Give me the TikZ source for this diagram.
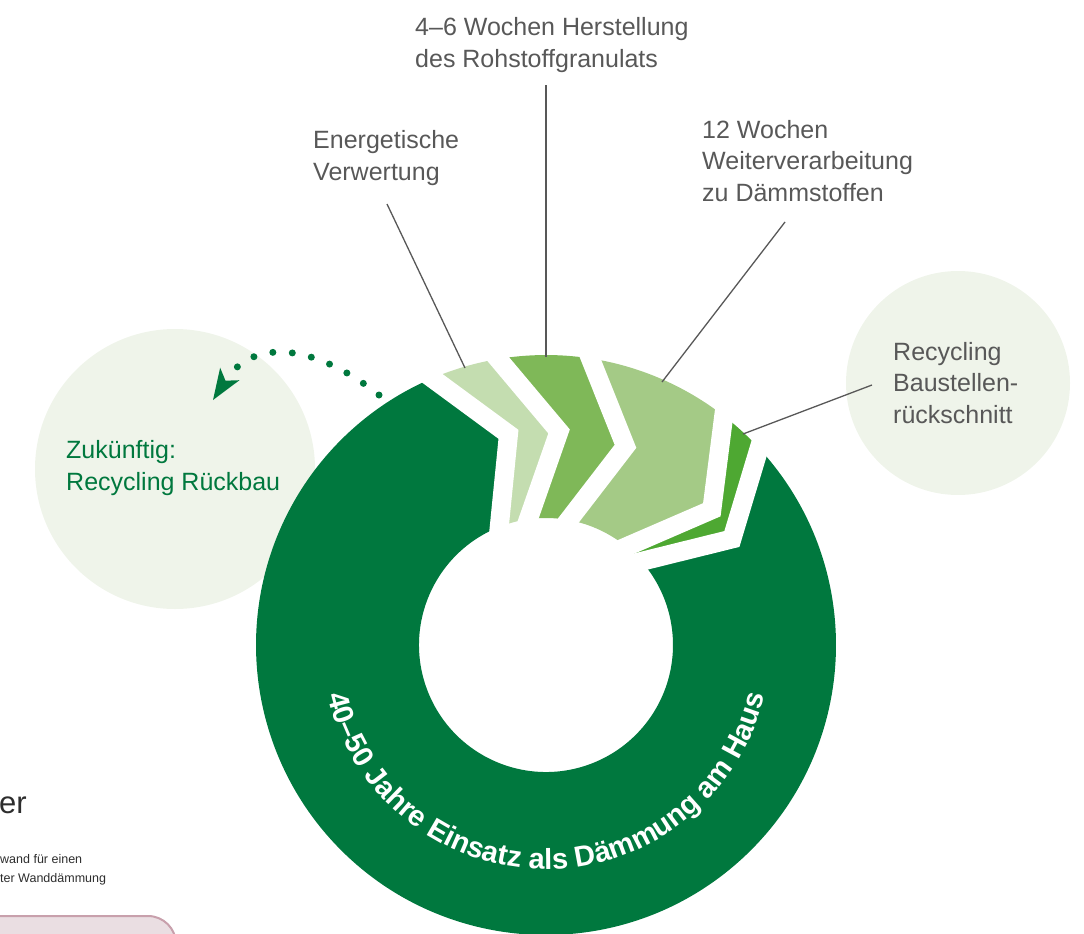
\documentclass[tikz,border=0pt]{standalone}
\usepackage{fontspec}
\setmainfont{Liberation Sans}
\usepackage{xcolor}
\usetikzlibrary{calc,arrows.meta,decorations.text}

\definecolor{ringgreen}{RGB}{0,120,62}
\definecolor{segpale}{RGB}{196,221,176}
\definecolor{segmid}{RGB}{127,184,88}
\definecolor{seglight}{RGB}{164,202,134}
\definecolor{segbright}{RGB}{78,168,50}
\definecolor{bubble}{RGB}{239,244,234}
\definecolor{txtgray}{RGB}{88,88,88}
\definecolor{pagetext}{RGB}{45,45,45}
\definecolor{barpink}{RGB}{234,222,226}
\definecolor{barrim}{RGB}{200,160,172}

\begin{document}
\begin{tikzpicture}[x=1pt, y=1pt,
    lbl/.style={font=\fontsize{25}{31.5}\selectfont, text=txtgray, align=left, inner sep=0pt, anchor=base west},
    leader/.style={draw=txtgray, line width=1.3pt},
    gap/.style={draw=white, line width=19pt, line join=miter, shorten <=-20pt, shorten >=-20pt},
    dots/.style={draw=ringgreen, line width=7pt, line cap=round, dash pattern=on 0pt off 19.5pt}]
  \useasboundingbox (0,0) rectangle (1084,-934);
  \clip (0,0) rectangle (1084,-934);

  % Background bubbles
  \fill[bubble] (175,-469) circle (140);
  \fill[bubble] (958,-383) circle (112);

  % Ring centre and chevron boundaries (outer, tip, inner)
  \coordinate (C) at (546,-645);
  \foreach \a [count=\i from 0] in {113.1,99.5,81.2,52.2,42.7} {
    \coordinate (o\i) at ($(C)+(\a:290)$);
    \coordinate (t\i) at ($(C)+(\a-13:214)$);
    \coordinate (n\i) at ($(C)+(\a-1.5:127)$);
  }

  % Main ring: 40-50 years on the house
  \fill[ringgreen] (o4) arc[start angle=42.7, end angle=-246.9, radius=290] -- (t0)
    -- (n0) arc[start angle=-248.4, end angle=41.2, radius=127] -- (t4) -- cycle;

  % Chevron segments
  \fill[segpale] (o0) arc[start angle=113.1, end angle=99.5, radius=290] -- (t1)
    -- (n1) arc[start angle=98, end angle=111.6, radius=127] -- (t0) -- cycle;
  \fill[segmid] (o1) arc[start angle=99.5, end angle=81.2, radius=290] -- (t2)
    -- (n2) arc[start angle=79.7, end angle=98, radius=127] -- (t1) -- cycle;
  \fill[seglight] (o2) arc[start angle=81.2, end angle=52.2, radius=290] -- (t3)
    -- (n3) arc[start angle=50.7, end angle=79.7, radius=127] -- (t2) -- cycle;
  \fill[segbright] (o3) arc[start angle=52.2, end angle=42.7, radius=290] -- (t4)
    -- (n4) arc[start angle=41.2, end angle=50.7, radius=127] -- (t3) -- cycle;

  % White gaps between segments
  \foreach \i in {0,...,4}
    \draw[gap] (o\i) -- (t\i) -- (n\i);

  % Curved text in the ring
  \path[decorate, decoration={text along path, text align=center, text color=white,
      text={|\fontsize{29}{29}\selectfont\bfseries|40–50 Jahre Einsatz als Dämmung am Haus}}]
    ($(C)+(180:224)$) arc[start angle=180, end angle=360, radius=224];

  % Labels (base = last line)
  \node[lbl] (herst) at (415,-67) {4–6 Wochen Herstellung\\des Rohstoffgranulats};
  \node[lbl] (energ) at (313,-180) {Energetische\\Verwertung};
  \node[lbl] (weiter) at (702,-201) {12 Wochen\\Weiterverarbeitung\\zu Dämmstoffen};
  \node[lbl] (bau) at (893,-423) {Recycling\\Baustellen-\\rückschnitt};
  \node[lbl, text=ringgreen] (future) at (66,-490) {Zukünftig:\\Recycling Rückbau};

  % Leader lines
  \coordinate (energA) at (387,-204);  \coordinate (energB) at (465,-368);
  \coordinate (herstA) at (546,-85);   \coordinate (herstB) at (546,-357);
  \coordinate (weiterA) at (785,-222); \coordinate (weiterB) at (662,-382);
  \coordinate (bauA) at (872,-385);    \coordinate (bauB) at (743,-434);
  \draw[leader] (energA) -- (energB);
  \draw[leader] (herstA) -- (herstB);
  \draw[leader] (weiterA) -- (weiterB);
  \draw[leader] (bauA) -- (bauB);

  % Dotted arrow to future recycling
  \coordinate (fromRing) at (379,-395);
  \coordinate (toBubble) at (213,-400);
  \draw[dots, -{Stealth[length=31pt, width=23pt, inset=8pt, line width=0pt]}]
    (fromRing) .. controls (319,-347) and (255,-335) .. (toBubble);

  % Cut-off page content, bottom left
  \node[anchor=base west, inner sep=0pt, font=\fontsize{31}{31}\selectfont, text=pagetext] (head) at (-1,-813) {er};
  \node[anchor=base west, inner sep=0pt, align=left, font=\fontsize{12.5}{18.5}\selectfont, text=pagetext] (note) at (0,-882) {wand für einen\\ter Wanddämmung};
  \draw[barrim, fill=barpink, line width=2pt, rounded corners=28pt] (-30,-916) rectangle (176,-990);
\end{tikzpicture}
\end{document}
